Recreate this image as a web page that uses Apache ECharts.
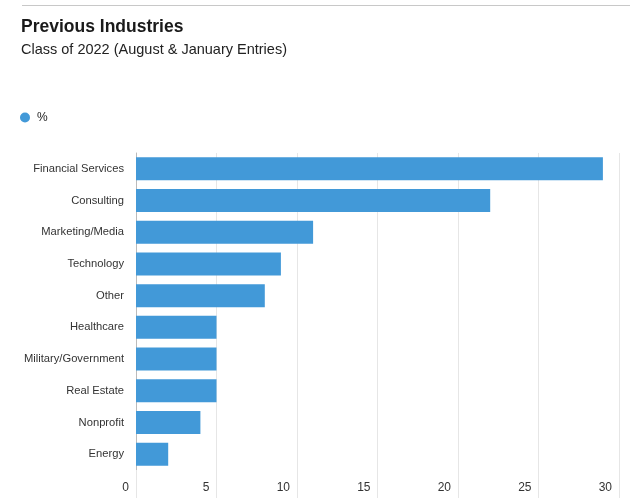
<!DOCTYPE html>
<html><head><meta charset="utf-8">
<script src="https://cdn.jsdelivr.net/npm/echarts@6/dist/echarts.min.js"></script>
<style>html,body{margin:0;padding:0;background:#fff}#c{width:640px;height:502px}</style>
</head><body><div id="c"></div>
<script>
const categories = ["Financial Services","Consulting","Marketing/Media","Technology","Other","Healthcare","Military/Government","Real Estate","Nonprofit","Energy"];
const values = [29, 22, 11, 9, 8, 5, 5, 5, 4, 2];
const seriesName = "%";
const titleText = "Previous Industries";
const subtitleText = "Class of 2022 (August & January Entries)";
const xMin = 0, xMax = 30, xInterval = 5;

const FONT = "Liberation Sans, Arial, sans-serif";
const chart = echarts.init(document.getElementById('c'), null, {renderer:'canvas'});
chart.setOption({
  animation: false,
  textStyle: {fontFamily: FONT},
  title: {
    text: titleText, subtext: subtitleText, left: 16, top: 13, itemGap: 6,
    textStyle: {fontFamily: FONT, fontSize: 17.5, fontWeight: 'bold', color: '#1a1a1a'},
    subtextStyle: {fontFamily: FONT, fontSize: 14.5, color: '#222'}
  },
  graphic: [{type:'line', shape:{x1:22,y1:5.5,x2:630,y2:5.5}, style:{stroke:'#c8c8c8', lineWidth:1}}],
  legend: {
    left: 15, top: 106.5, icon: 'circle', itemWidth: 10, itemHeight: 10, itemGap: 10,
    textStyle: {fontFamily: FONT, fontSize: 12, color: '#222', padding: [0, 0, 0, 2]},
    data: [seriesName]
  },
  grid: {left: 136, right: 21, top: 153, bottom: 32, containLabel: false},
  xAxis: {
    type: 'value', min: xMin, max: xMax, interval: xInterval,
    axisLine: {show: false},
    axisTick: {show: true, length: 28, lineStyle: {color: '#e6e6e6'}},
    splitLine: {show: true, lineStyle: {color: '#e6e6e6'}},
    axisLabel: {align: 'right', margin: 12, padding: [0, 7, 0, 0], fontFamily: FONT, fontSize: 12, color: '#333'}
  },
  yAxis: {
    type: 'category', data: categories, inverse: true,
    axisLine: {show: true, lineStyle: {color: '#bbbbbb'}},
    axisTick: {show: false},
    axisLabel: {margin: 12, fontFamily: FONT, fontSize: 11.2, color: '#333'}
  },
  series: [{
    name: seriesName, type: 'bar', data: values, barWidth: 23,
    itemStyle: {color: '#4299D8'}
  }]
});
</script></body></html>
